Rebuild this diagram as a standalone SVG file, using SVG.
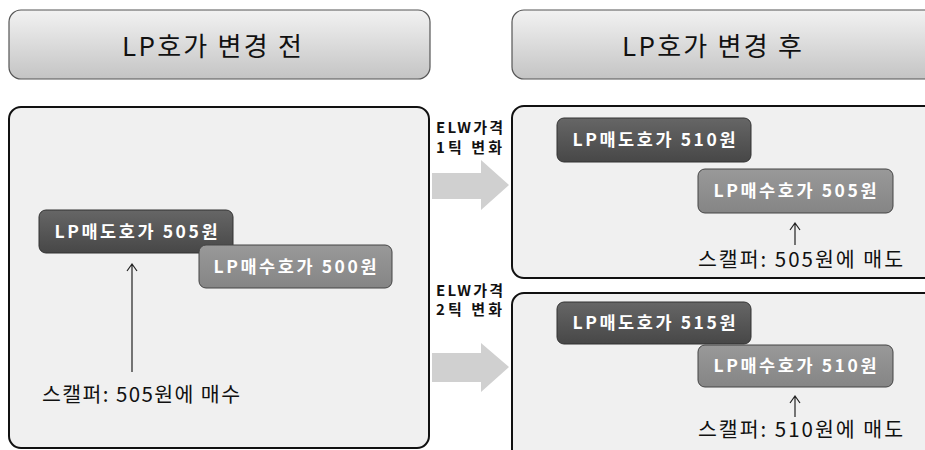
<svg xmlns="http://www.w3.org/2000/svg" width="925" height="450" viewBox="0 0 925 450">
<defs>
<linearGradient id="hdr" x1="0" y1="0" x2="0" y2="1"><stop offset="0" stop-color="#f2f2f2"/><stop offset="1" stop-color="#c4c4c4"/></linearGradient>
<linearGradient id="dark" x1="0" y1="0" x2="0" y2="1"><stop offset="0" stop-color="#666"/><stop offset="1" stop-color="#474747"/></linearGradient>
<linearGradient id="light" x1="0" y1="0" x2="0" y2="1"><stop offset="0" stop-color="#999"/><stop offset="1" stop-color="#858585"/></linearGradient>
</defs>
<style>
.hdr{fill:url(#hdr);stroke:#555;stroke-width:1.2}
.panel{fill:#f0f0f0;stroke:#111;stroke-width:2}
.dark{fill:url(#dark);stroke:#333;stroke-width:1}
.light{fill:url(#light);stroke:#444;stroke-width:1}
.ht{font-family:"Noto Sans CJK KR","Noto Sans",sans-serif;font-size:26px;fill:#111;text-anchor:middle}
.bt{font-family:"Noto Sans CJK KR","Noto Sans",sans-serif;font-size:17.5px;font-weight:bold;fill:#fff;text-anchor:middle}
.st{font-family:"Noto Sans CJK KR","Noto Sans",sans-serif;font-size:20.5px;fill:#111}
.lt{font-family:"Noto Sans CJK KR","Noto Sans",sans-serif;font-size:15px;font-weight:bold;fill:#111}
.ga{fill:#d0d0d0}
.conn{stroke:#222;stroke-width:1.2;fill:none}
</style>
<rect width="925" height="450" fill="#fff"/>
<g id="header-before"><rect class="hdr" x="9" y="10" width="421" height="69" rx="12"/><text class="ht" x="212" y="56" textLength="180" lengthAdjust="spacing">LP호가 변경 전</text></g>
<g id="header-after"><rect class="hdr" x="512" y="10" width="430" height="69" rx="12"/><text class="ht" x="712" y="56" textLength="180" lengthAdjust="spacing">LP호가 변경 후</text></g>
<g id="panel-before"><rect class="panel" x="9" y="107" width="420" height="341" rx="12"/></g>
<g id="panel-after1"><rect class="panel" x="512" y="106" width="430" height="172" rx="12"/></g>
<g id="panel-after2"><rect class="panel" x="512" y="293" width="430" height="180" rx="12"/></g>
<g id="sell505"><rect class="dark" x="39" y="210" width="194" height="43" rx="7"/><text class="bt" x="136" y="238" textLength="163" lengthAdjust="spacing">LP매도호가 505원</text></g>
<g id="buy500"><rect class="light" x="199" y="245" width="193" height="43" rx="7"/><text class="bt" x="295" y="273" textLength="163" lengthAdjust="spacing">LP매수호가 500원</text></g>
<g id="scalper1"><text class="st" x="42" y="402" textLength="198" lengthAdjust="spacing">스캘퍼: 505원에 매수</text></g>
<g id="label1"><text class="lt" x="436" y="133" textLength="67" lengthAdjust="spacing">ELW가격</text><text class="lt" x="436" y="153" textLength="66" lengthAdjust="spacing">1틱 변화</text></g>
<g id="label2"><text class="lt" x="436" y="296" textLength="67" lengthAdjust="spacing">ELW가격</text><text class="lt" x="436" y="315" textLength="66" lengthAdjust="spacing">2틱 변화</text></g>
<g id="sell510"><rect class="dark" x="557" y="118" width="194" height="44" rx="7"/><text class="bt" x="654" y="146" textLength="163" lengthAdjust="spacing">LP매도호가 510원</text></g>
<g id="buy505"><rect class="light" x="698" y="169" width="195" height="44" rx="7"/><text class="bt" x="795" y="197" textLength="163" lengthAdjust="spacing">LP매수호가 505원</text></g>
<g id="scalper2"><text class="st" x="698" y="267" textLength="205" lengthAdjust="spacing">스캘퍼: 505원에 매도</text></g>
<g id="sell515"><rect class="dark" x="557" y="302" width="194" height="42" rx="7"/><text class="bt" x="654" y="329" textLength="163" lengthAdjust="spacing">LP매도호가 515원</text></g>
<g id="buy510"><rect class="light" x="698" y="345" width="195" height="42" rx="7"/><text class="bt" x="795" y="372" textLength="163" lengthAdjust="spacing">LP매수호가 510원</text></g>
<g id="scalper3"><text class="st" x="698" y="437" textLength="205" lengthAdjust="spacing">스캘퍼: 510원에 매도</text></g>
<g id="connectors">
<path class="conn" d="M132,372 L132,264 M127,271 L132,264 L137,271"/>
<path class="conn" d="M795,245 L795,223 M790,230 L795,223 L800,230"/>
<path class="conn" d="M795,417 L795,396 M790,403 L795,396 L800,403"/>
<path class="ga" d="M432,173 L481,173 L481,160 L509,185 L481,210 L481,199 L432,199 Z"/>
<path class="ga" d="M432,353 L481,353 L481,343 L509,367 L481,392 L481,382 L432,382 Z"/>
</g>
</svg>
